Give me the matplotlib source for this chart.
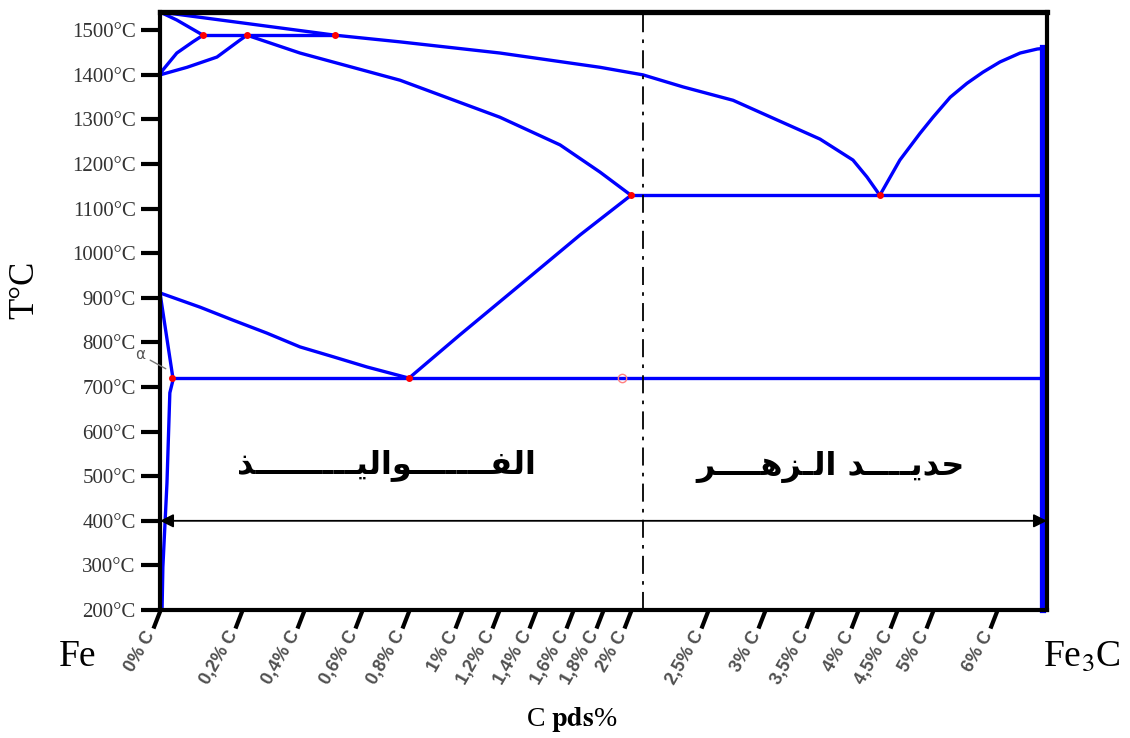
import numpy as np
import matplotlib
matplotlib.use("Agg")
import matplotlib.pyplot as plt
from matplotlib.path import Path
from matplotlib.transforms import ScaledTranslation

plt.rcParams['mathtext.fontset'] = 'stix'

# axis ticks
c_ticks = [0, 0.2, 0.4, 0.6, 0.8, 1.0, 1.2, 1.4, 1.6, 1.8, 2.0, 2.5, 3.0, 3.5, 4.0, 4.5, 5.0, 6.0]
c_labels = ["0% C", "0,2% C", "0,4% C", "0,6% C", "0,8% C", "1% C", "1,2% C", "1,4% C",
            "1,6% C", "1,8% C", "2% C", "2,5% C", "3% C", "3,5% C", "4% C", "4,5% C",
            "5% C", "6% C"]
t_ticks = [200, 300, 400, 500, 600, 700, 800, 900, 1000, 1100, 1200, 1300, 1400, 1500]
t_labels = [f"{t}°C" for t in t_ticks]

# phase boundaries, (% C, °C)
liq_c = [0, 0.507, 0.762, 1.205, 1.78, 2.078, 2.338, 2.72, 3.125, 3.365, 3.578, 3.944, 4.115, 4.28]
liq_t = [1541, 1489, 1474, 1449, 1417, 1400, 1373, 1343, 1299, 1276, 1256, 1209, 1171, 1130]
liq2_c = [4.28, 4.54, 4.82, 5.0, 5.27, 5.53, 5.78, 6.04, 6.31, 6.54, 6.67]
liq2_t = [1130, 1209, 1269, 1305, 1350, 1381, 1406, 1429, 1449, 1458, 1460]
delta_c = [0, 0.041, 0.105]
delta_t = [1541, 1523, 1489]
delta2_c = [0.105, 0.08, 0.041, 0.007, 0]
delta2_t = [1489, 1474, 1449, 1411, 1400]
gam_c = [0, 0.066, 0.139, 0.195, 0.216]
gam_t = [1400, 1417, 1440, 1478, 1489]
perit_c = [0.105, 0.507]
perit_t = [1489, 1489]
sol_c = [0.216, 0.387, 0.762, 1.205, 1.53, 1.78, 2.0]
sol_t = [1489, 1449, 1388, 1305, 1243, 1182, 1130]
eutec_c = [2.0, 6.67]
eutec_t = [1130, 1130]
a3_c = [0, 0.098, 0.178, 0.28, 0.387, 0.5, 0.621, 0.8]
a3_t = [911, 879, 850, 821, 790, 768, 745, 720]
acm_c = [0.8, 0.992, 1.314, 1.647, 2.0]
acm_t = [720, 817, 929, 1041, 1130]
eutd_c = [0.029, 6.67]
eutd_t = [720, 720]
gp_c = [0, 0.032]
gp_t = [911, 717]
solv_c = [0.032, 0.024, 0.017, 0.007, 0.005]
solv_t = [717, 687, 485, 296, 200]
fe3c_c = [6.61, 6.61]
fe3c_t = [1460, 200]
pts_c = [0.105, 0.216, 0.507, 2.0, 4.28, 0.8, 0.029]
pts_t = [1489, 1489, 1489, 1130, 1130, 720, 720]
c_split = 2.08

# non-linear carbon axis (stretch of the original drawing)
x_knots = c_ticks + [6.67]
x_stretch = [0, 82, 144, 202, 249, 302, 339, 376, 413, 443, 471, 548, 605, 653, 698, 737, 773, 837, 887]


def fwd(c):
    return np.interp(c, x_knots, x_stretch)


def inv(p):
    return np.interp(p, x_stretch, x_knots)


fig = plt.figure(figsize=(11.3, 7.38), dpi=100)
ax = fig.add_axes([160 / 1130, 1 - 610 / 738, (1047 - 160) / 1130, (610 - 12) / 738])
ax.set_xscale('function', functions=(fwd, inv))
ax.set_xlim(0, 6.67)
ax.set_ylim(200, 1541)

blue = '#0000ff'
for cc, tt in [(liq_c, liq_t), (liq2_c, liq2_t), (delta_c, delta_t), (delta2_c, delta2_t),
               (gam_c, gam_t), (perit_c, perit_t), (sol_c, sol_t), (eutec_c, eutec_t),
               (a3_c, a3_t), (acm_c, acm_t), (eutd_c, eutd_t), (gp_c, gp_t), (solv_c, solv_t)]:
    ax.plot(cc, tt, color=blue, lw=2.4, solid_capstyle='round', solid_joinstyle='round')
ax.plot(fe3c_c, fe3c_t, color=blue, lw=4.5, clip_on=False)
ax.plot(pts_c, pts_t, 'o', color='red', ms=4, zorder=5)
ax.plot([1.936], [720], 'o', mfc='none', mec='#ff8080', ms=6, zorder=5)

ax.axvline(c_split, color='black', lw=1.3, linestyle=(0, (10, 4, 2, 4)))

# double arrow at 400 °C
arr = dict(arrowstyle='-|>', color='black', lw=1.3, mutation_scale=20, shrinkA=0, shrinkB=0)
ax.annotate("", xy=(0, 400), xytext=(c_split, 400), arrowprops=arr, annotation_clip=False)
ax.annotate("", xy=(6.67, 400), xytext=(c_split, 400), arrowprops=arr, annotation_clip=False)

# region labels (arabic, visual order, presentation forms)
tw = "\u0640"
steel = "\uFEAC" + tw * 9 + "\uFEF4\uFEDF\uFE8D\uFEEE" + tw * 7 + "\uFED4\uFEDF\uFE8D"
cast = "\uFEAE" + tw * 4 + "\uFEEB\uFEB0" + tw + "\uFEDF\uFE8D \uFEAA" + tw * 4 + "\uFEF3\uFEAA\uFEA3"
ax.text(0.702, 525, steel, fontsize=23, fontweight='bold', family='DejaVu Sans',
        ha='center', va='center')
ax.text(3.69, 521, cast, fontsize=23, fontweight='bold', family='DejaVu Sans',
        ha='center', va='center')

ax.annotate("α", xy=(0.02, 738), xytext=(-24, 8), textcoords='offset points',
            fontsize=11, color='#555555', family='DejaVu Sans',
            arrowprops=dict(arrowstyle='-', color='#777777', lw=1),
            annotation_clip=False)

# ticks
ax.set_yticks(t_ticks, t_labels, family='Liberation Serif', fontsize=15, color='#333333')
ax.tick_params(axis='y', length=14, width=3, pad=3.5)
ax.set_xticks(c_ticks, c_labels, family='Liberation Sans', fontsize=13,
              fontweight='bold', color='#505050', rotation=60, ha='right', va='center',
              rotation_mode='anchor')
ax.tick_params(axis='x', length=13, width=3, pad=3)
ax.minorticks_off()
slant = Path([[0, 0], [-7, -18]])
for tk in ax.xaxis.get_major_ticks():
    tk.tick1line.set_marker(slant)
    tk.tick1line.set_markersize(26)
shift = ScaledTranslation(-6 / 72, 0, fig.dpi_scale_trans)
for lbl in ax.get_xticklabels():
    lbl.set_transform(lbl.get_transform() + shift)

for s in ax.spines.values():
    s.set_linewidth(3)
ax.spines['top'].set_linewidth(3.8)

fig.text(25 / 1130, 1 - 290 / 738, "T°C", rotation=90, family='Liberation Serif',
         fontsize=25, ha='center', va='center')
fig.text(572 / 1130, 1 - 720 / 738, r"C $\mathbf{pds}$%", family='Liberation Serif',
         fontsize=20, ha='center', va='center')
fig.text(78 / 1130, 1 - 657 / 738, "Fe", family='Liberation Serif', fontsize=27,
         ha='center', va='center')
fig.text(1082 / 1130, 1 - 657 / 738, "Fe$_3$C", family='Liberation Serif', fontsize=27,
         ha='center', va='center')

fig.savefig("out.png", dpi=100)
